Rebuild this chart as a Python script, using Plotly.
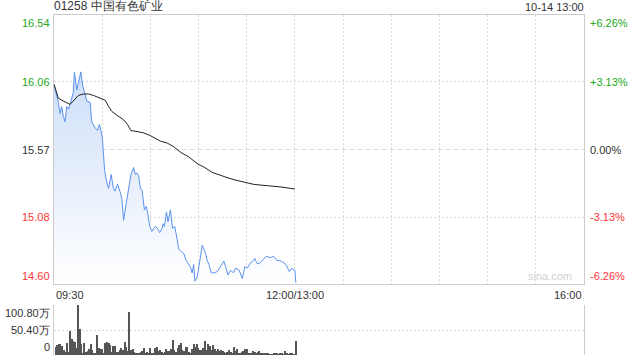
import plotly.graph_objects as go

# ---------------- data ----------------
title_text = "01258 中国有色矿业"
date_text = "10-14 13:00"
prev_close = 15.57
y_min, y_max = 14.60, 16.54
price_ticks = [16.54, 16.06, 15.57, 15.08, 14.60]
pct_ticks = ["+6.26%", "+3.13%", "0.00%", "-3.13%", "-6.26%"]
time_labels = ["09:30", "12:00/13:00", "16:00"]
time_label_pos = [0, 150, 330]
grid_minutes = [30, 60, 90, 120, 150, 180, 210, 240, 270, 300]
vol_max = 100.8
vol_ticks = [100.8, 50.4, 0]
vol_tick_labels = ["100.80万", "50.40万", "0"]

price_min = [0, 2.7, 3.8, 4.8, 5.8, 6.9, 7.9, 9, 10.4, 12,
             12.7, 14.2, 15.2, 16.7, 17.9, 19.4, 20.4, 22.5, 23.5, 25.6,
             27.1, 28.3, 29.4, 30.2, 31.5, 32.9, 34, 35.6, 37, 38,
             39.6, 41.3, 42.3, 43.3, 44.4, 45.8, 47, 47.9, 49.6, 50.6,
             51.7, 52.7, 53.8, 54.8, 56.3, 57.5, 58.5, 59.6, 61, 62.1,
             63.1, 64.6, 65.8, 67.3, 67.9, 68.8, 70, 71, 72.5, 73.8,
             75.2, 76.7, 77.7, 79.2, 80.8, 82.3, 84, 85, 86, 87,
             87.7, 89.2, 90.8, 92.3, 93.4, 94.4, 95.4, 96.5, 97.9, 99.6,
             101.7, 103.8, 105.8, 106.9, 108.3, 110, 111.7, 113.1, 115.2, 117.3,
             118.8, 120.4, 122.1, 123.5, 125, 126.3, 127.7, 129, 130.8, 132.5,
             134.6, 136.7, 138.8, 140.2, 142.3, 144.4, 145.4, 146.5, 148, 149.2,
             150, 150.6]
price_val = [16.04, 15.91, 15.83, 15.88, 15.81, 15.77, 15.88, 15.86, 15.91, 15.98,
             16.13, 16.00, 16.05, 16.13, 16.03, 15.95, 15.92, 15.91, 15.77, 15.725,
             15.71, 15.75, 15.70, 15.64, 15.42, 15.33, 15.29, 15.39, 15.29, 15.27,
             15.32, 15.26, 15.21, 15.06, 15.135, 15.26, 15.32, 15.39, 15.44, 15.39,
             15.40, 15.38, 15.29, 15.28, 15.135, 15.16, 15.10, 15.015, 14.98, 15.00,
             15.015, 15.00, 14.97, 15.00, 15.035, 15.015, 15.12, 15.05, 15.135, 15.00,
             15.015, 14.92, 14.85, 14.835, 14.82, 14.77, 14.74, 14.72, 14.68, 14.74,
             14.62, 14.65, 14.77, 14.88, 14.85, 14.82, 14.77, 14.74, 14.68, 14.68,
             14.69, 14.725, 14.765, 14.725, 14.665, 14.70, 14.68, 14.715, 14.70, 14.64,
             14.725, 14.715, 14.75, 14.76, 14.785, 14.75, 14.745, 14.76, 14.785, 14.80,
             14.79, 14.80, 14.77, 14.77, 14.76, 14.74, 14.715, 14.69, 14.715, 14.70,
             14.70, 14.61]

avg_min = [0, 2.7, 5.8, 10, 12, 15.2, 18.3, 21.5, 24.6, 28.8,
           31.9, 34, 36, 39.2, 43.3, 45.8, 47.9, 51.7, 55.8, 60,
           63.1, 66.3, 70.4, 74.6, 78.8, 84, 89.2, 93.3, 98.5, 102.7,
           106.9, 112.1, 118.3, 124.6, 132.9, 141.3, 150]
avg_val = [16.04, 15.94, 15.92, 15.895, 15.92, 15.96, 15.97, 15.97, 15.96, 15.94,
           15.925, 15.88, 15.845, 15.817, 15.785, 15.75, 15.706, 15.70, 15.69, 15.67,
           15.648, 15.63, 15.617, 15.59, 15.55, 15.516, 15.468, 15.444, 15.405, 15.386,
           15.371, 15.352, 15.333, 15.318, 15.309, 15.30, 15.285]

# volume in 万, one per minute
volume = [16.8, 20.2, 22.2, 22.2, 18.2, 10.1, 6.7, 23.5, 6.7, 49.1,
          31.6, 28.9, 26.9, 13.4, 100.8, 51.8, 22.2, 3.4, 23.5, 6.7,
          8.7, 11.4, 22.2, 10.1, 4.7, 3.4, 40.3, 13.4, 11.4, 11.4,
          4.7, 23.5, 26.9, 24.9, 20.2, 6.7, 18.2, 18.2, 6.7, 6.7,
          10.1, 13.4, 10.1, 26.9, 16.8, 8.7, 87.4, 10.1, 11.4, 6.7,
          3.4, 4.7, 3.4, 6.7, 8.7, 13.4, 4.7, 6.7, 4.7, 13.4,
          4.7, 3.4, 13.4, 16.8, 8.7, 10.1, 6.7, 4.7, 6.7, 11.4,
          8.7, 8.7, 11.4, 30.2, 10.1,
          6.7, 13.4, 20.2, 23.5, 10.1, 8.7, 15.4, 15.4, 6.7, 3.4,
          11.4, 22.2, 16.8, 22.2, 13.4, 10.1, 10.1, 13.4, 28.9, 10.1,
          22.2, 18.2, 10.1, 20.2, 11.4, 8.7, 11.4, 8.7, 10.1, 8.7,
          6.7, 4.7, 6.7, 10.1, 6.7, 3.4, 15.4, 8.7, 11.4, 3.4,
          2.0, 6.7, 8.7, 11.4, 11.4, 3.4, 4.7, 4.7, 8.7, 6.7,
          4.7, 6.7, 8.7, 3.4, 4.7, 2.0, 3.4, 3.4, 1.3, 0.7,
          1.3, 4.7, 2.0, 3.4, 1.3, 4.7, 2.0, 0.5, 8.7, 3.4,
          1.3, 4.7, 2.0, 1.3, 0.5, 28.9]
vol_min = list(range(1, len(volume) + 1))

# ---------------- style ----------------
FONT = "Liberation Sans, Arial, sans-serif"
GREEN = "#22a822"
RED = "#ff3535"
DARK = "#333333"
GRID = "#d9d9d9"
BORDER = "#cccccc"
tick_colors = [GREEN, GREEN, DARK, RED, RED]

fig = go.Figure()

fig.add_trace(go.Scatter(
    x=price_min, y=price_val, mode="lines",
    line=dict(color="#5a92ee", width=1),
    fill="tozeroy",
    fillgradient=dict(type="vertical",
                      colorscale=[[0, "rgba(255,255,255,1)"], [1, "rgba(206,222,248,1)"]],
                      start=y_min, stop=max(price_val)),
    hoverinfo="skip", xaxis="x", yaxis="y"))

fig.add_trace(go.Scatter(
    x=avg_min, y=avg_val, mode="lines",
    line=dict(color="#222222", width=1),
    hoverinfo="skip", xaxis="x", yaxis="y"))

fig.add_trace(go.Bar(
    x=vol_min, y=volume, marker=dict(color="#555555", line=dict(width=0)),
    width=0.75, hoverinfo="skip", xaxis="x2", yaxis="y2"))

# 0% dashed reference line
fig.add_shape(type="line", xref="x domain", x0=0, x1=1, yref="y", y0=prev_close, y1=prev_close,
              line=dict(color=GRID, width=1, dash="5px,3px"), layer="below")

ann = []
for v, c, p in zip(price_ticks, tick_colors, pct_ticks):
    if v == y_max:
        ya = "top"
    elif v == y_min:
        ya = "bottom"
    else:
        ya = "middle"
    ann.append(dict(xref="paper", x=0, xanchor="right", xshift=-2, yref="y", y=v, yanchor=ya,
                    text=f"{v:.2f}", showarrow=False, font=dict(size=11, color=c, family=FONT)))
    ann.append(dict(xref="paper", x=1, xanchor="left", xshift=4, yref="y", y=v, yanchor=ya,
                    text=p, showarrow=False, font=dict(size=11, color=c, family=FONT)))

for t, pos in zip(time_labels, time_label_pos):
    xa = "left" if pos == 0 else ("right" if pos == 330 else "center")
    ann.append(dict(xref="x", x=pos, xanchor=xa, yref="y", y=y_min, yanchor="top", yshift=-3,
                    text=t, showarrow=False, font=dict(size=11, color=DARK, family=FONT)))

for v, t in zip(vol_ticks, vol_tick_labels):
    ya = "top" if v == vol_max else ("bottom" if v == 0 else "middle")
    ann.append(dict(xref="paper", x=0, xanchor="right", xshift=-2, yref="y2", y=v, yanchor=ya,
                    text=t, showarrow=False, font=dict(size=11, color=DARK, family=FONT)))

ann.append(dict(xref="paper", x=0, xanchor="left", xshift=-2, yref="paper", y=1, yanchor="bottom",
                text=title_text, showarrow=False, font=dict(size=12, color=DARK, family=FONT)))
ann.append(dict(xref="paper", x=1, xanchor="right", xshift=2, yref="paper", y=1, yanchor="bottom",
                text=date_text, showarrow=False, font=dict(size=11, color=DARK, family=FONT)))
ann.append(dict(xref="paper", x=1, xanchor="right", xshift=-10, yref="y", y=y_min, yanchor="bottom",
                text="sina.com", showarrow=False, font=dict(size=11, color="#cfcfcf", family=FONT)))

fig.update_layout(
    width=640, height=360,
    margin=dict(l=54, r=56, t=15, b=5),
    paper_bgcolor="white", plot_bgcolor="white",
    showlegend=False,
    annotations=ann,
    xaxis=dict(domain=[0, 1], range=[0, 330], tickvals=grid_minutes, showticklabels=False,
               showgrid=True, gridcolor=GRID, griddash="2px,2px", zeroline=False,
               showline=True, mirror=True, linecolor=BORDER, linewidth=1, ticks="",
               anchor="y", fixedrange=True),
    yaxis=dict(domain=[0.2088, 1], range=[y_min, y_max], tickvals=[price_ticks[1], price_ticks[3]],
               showticklabels=False, showgrid=True, gridcolor=GRID, griddash="2px,2px",
               zeroline=False, showline=True, mirror=True, linecolor=BORDER, linewidth=1,
               ticks="", anchor="x", fixedrange=True),
    xaxis2=dict(domain=[0, 1], range=[0, 330], showticklabels=False, showgrid=False,
                zeroline=False, showline=False, ticks="", anchor="y2", fixedrange=True),
    yaxis2=dict(domain=[0, 0.147], range=[0, vol_max], tickvals=vol_ticks, showticklabels=False,
                showgrid=True, gridcolor=GRID, griddash="2px,2px", zeroline=False,
                showline=True, mirror=True, linecolor=BORDER, linewidth=1, ticks="",
                anchor="x2", fixedrange=True),
    bargap=0,
)

fig.write_html("out.html", config={"displayModeBar": False})
